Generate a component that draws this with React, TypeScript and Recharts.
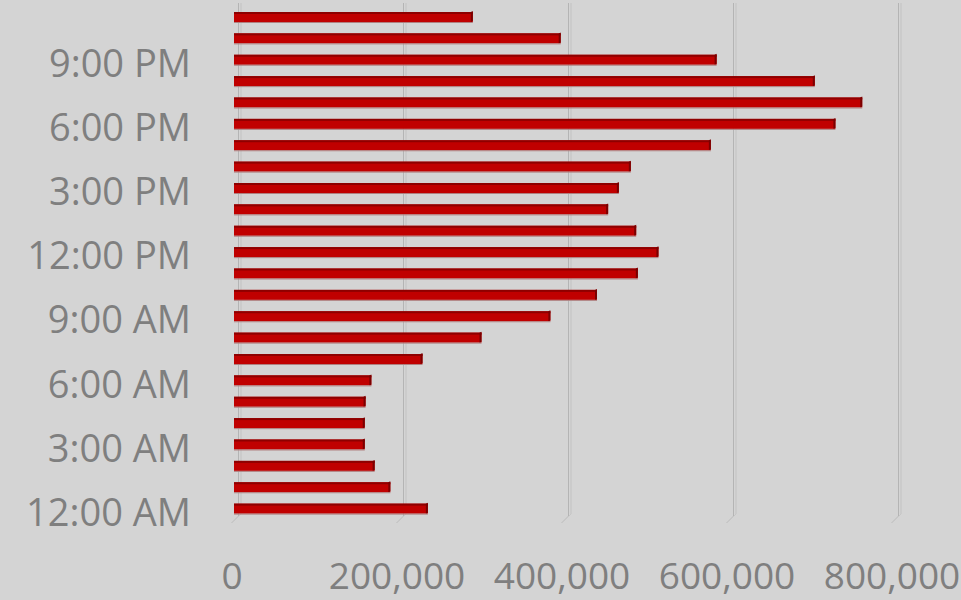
import React from "react";
import { BarChart, Bar, XAxis, YAxis, CartesianGrid } from "recharts";

const hours = [
  "12:00 AM", "1:00 AM", "2:00 AM", "3:00 AM", "4:00 AM", "5:00 AM",
  "6:00 AM", "7:00 AM", "8:00 AM", "9:00 AM", "10:00 AM", "11:00 AM",
  "12:00 PM", "1:00 PM", "2:00 PM", "3:00 PM", "4:00 PM", "5:00 PM",
  "6:00 PM", "7:00 PM", "8:00 PM", "9:00 PM", "10:00 PM", "11:00 PM",
];

const trips = [
  235000, 189500, 170500, 158500, 158500, 159500,
  166500, 228500, 300000, 383500, 440000, 489500,
  514500, 487500, 453500, 466500, 481000, 578000,
  729000, 761500, 704000, 585000, 396000, 289500,
];

const xTicks = [0, 200000, 400000, 600000, 800000];

const data = hours.map((h, i) => ({ hour: h, value: trips[i] }));

const TEXT = "#7f7f7f";
const FONT = "'Open Sans', sans-serif";

const fmt = (v: number) => v.toLocaleString("en-US");

const BarShape = (props: any) => {
  const { x, y, width, height } = props;
  if (width <= 0) return null;
  const side = 2;
  return (
    <g>
      <rect x={x} y={y} width={width} height={height} fill="#c00000" />
      <rect x={x} y={y} width={width} height={2} fill="#8e0000" />
      <polygon
        points={`${x + width - side},${y} ${x + width},${y - 1} ${x + width},${y + height - 1} ${x + width - side},${y + height}`}
        fill="#7a0000"
      />
      <line x1={x} y1={y + height + 0.5} x2={x + width} y2={y + height + 0.5} stroke="#b08080" strokeWidth={1} />
    </g>
  );
};

const YTick = (props: any) => {
  const { y, payload } = props;
  return (
    <text x={191} y={y + 17.5} textAnchor="end" fill={TEXT} fontSize={38} fontFamily={FONT}>
      {payload.value}
    </text>
  );
};

const XTick = (props: any) => {
  const { x, y, payload } = props;
  return (
    <text x={x - 2} y={y + 62} textAnchor="middle" fill={TEXT} fontSize={37} fontFamily={FONT}>
      {fmt(payload.value)}
    </text>
  );
};

const GridLine = (props: any) => {
  const { x1, y1, y2 } = props;
  const bx = x1 + 4.5;
  return (
    <g>
      <line x1={bx} y1={y1 - 3} x2={bx} y2={y2 - 3} stroke="#b4b4b4" strokeWidth={1} />
      <line x1={bx + 2.5} y1={y1 - 3} x2={bx + 2.5} y2={y2 - 5} stroke="#c2c2c2" strokeWidth={1} />
      <line x1={bx} y1={y2 - 3} x2={bx - 7} y2={y2 + 4} stroke="#bcbcbc" strokeWidth={1} />
      <line x1={bx + 2.5} y1={y2 - 5} x2={bx - 4.5} y2={y2 + 2} stroke="#c6c6c6" strokeWidth={1} />
    </g>
  );
};

export default function App() {
  return (
    <div style={{ position: "absolute", left: 0, top: 0, width: 961, height: 600, background: "#d4d4d4", overflow: "hidden" }}>
      <BarChart
        width={961}
        height={600}
        data={data}
        layout="vertical"
        margin={{ top: 6, right: 67, bottom: 0, left: 0 }}
      >
        <CartesianGrid horizontal={false} vertical={GridLine} />
        <XAxis
          type="number"
          domain={[0, 800000]}
          ticks={xTicks}
          axisLine={false}
          tickLine={false}
          height={81}
          tick={<XTick />}
          interval={0}
        />
        <YAxis
          type="category"
          dataKey="hour"
          reversed
          width={234}
          axisLine={false}
          tickLine={false}
          interval={2}
          tick={<YTick />}
        />
        <Bar dataKey="value" barSize={10} shape={<BarShape />} isAnimationActive={false} />
      </BarChart>
    </div>
  );
}
